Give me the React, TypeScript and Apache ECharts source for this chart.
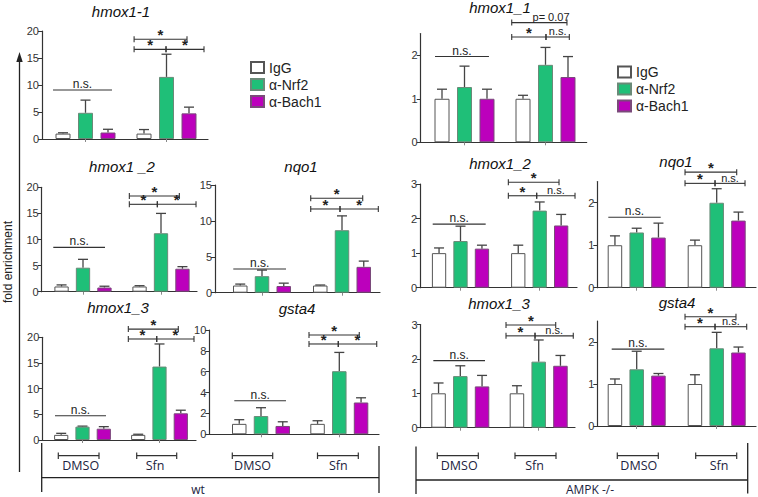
import React, { useEffect, useRef } from 'react';
import * as echarts from 'echarts';

// ---------- data ----------
const groups = ['DMSO', 'Sfn'];
const groupX = [1, 2];
const antibodies = ['IgG', 'α-Nrf2', 'α-Bach1'];

// rows: IgG, α-Nrf2, α-Bach1 ; columns: DMSO, Sfn
const wtHmox1_1 = [[1.0, 1.0], [4.85, 11.5], [1.2, 4.75]];
const wtHmox1_1Sem = [[0.15, 0.75], [2.35, 4.2], [0.6, 1.15]];
const ampkHmox1_1 = [[1.0, 1.0], [1.27, 1.78], [1.0, 1.5]];
const ampkHmox1_1Sem = [[0.22, 0.08], [0.48, 0.4], [0.22, 0.47]];
const wtHmox1_2 = [[1.0, 1.0], [4.6, 11.2], [0.8, 4.4]];
const wtHmox1_2Sem = [[0.3, 0.15], [1.6, 3.8], [0.25, 0.4]];
const wtNqo1 = [[1.0, 1.0], [2.3, 8.7], [0.93, 3.6]];
const wtNqo1Sem = [[0.2, 0.07], [0.85, 2.0], [0.4, 0.8]];
const wtHmox1_3 = [[1.0, 1.0], [2.6, 14.3], [2.2, 5.2]];
const wtHmox1_3Sem = [[0.3, 0.12], [0.1, 4.4], [0.4, 0.6]];
const wtGsta4 = [[1.0, 1.0], [1.75, 6.05], [0.8, 3.05]];
const wtGsta4Sem = [[0.4, 0.3], [0.8, 1.8], [0.4, 0.45]];
const ampkHmox1_2 = [[1.0, 1.0], [1.35, 2.23], [1.13, 1.8]];
const ampkHmox1_2Sem = [[0.15, 0.23], [0.43, 0.25], [0.1, 0.32]];
const ampkNqo1 = [[1.0, 1.0], [1.3, 2.0], [1.18, 1.58]];
const ampkNqo1Sem = [[0.22, 0.12], [0.1, 0.33], [0.34, 0.2]];
const ampkHmox1_3 = [[1.0, 1.0], [1.5, 1.92], [1.2, 1.8]];
const ampkHmox1_3Sem = [[0.3, 0.22], [0.3, 0.63], [0.32, 0.3]];
const ampkGsta4 = [[1.0, 1.0], [1.35, 1.85], [1.2, 1.75]];
const ampkGsta4Sem = [[0.12, 0.22], [0.43, 0.38], [0.05, 0.13]];

// significance annotations: [x1, x2, y, label, endTicks, labelX?]
const wtHmox1_1Sig = [[1.6, 2.253, 18.46, '*', 1], [1.6, 1.994, 16.6, '*', 1], [1.994, 2.463, 16.6, '*', 1], [0.599, 1.327, 9.07, 'n.s.', 0]];
const ampkHmox1_1Sig = [[1.583, 2.265, 2.75, 'p= 0.07', 1, 2.068], [1.583, 2.006, 2.42, '*', 1], [2.006, 2.294, 2.42, 'n.s.', 1], [0.636, 1.302, 1.97, 'n.s.', 0]];
const wtHmox1_2Sig = [[1.594, 2.235, 18.33, '*', 1], [1.594, 1.953, 16.74, '*', 1], [1.953, 2.449, 16.74, '*', 1], [0.619, 1.282, 8.5, 'n.s.', 0]];
const wtNqo1Sig = [[1.609, 2.259, 13.15, '*', 1], [1.609, 1.975, 11.66, '*', 1], [1.975, 2.454, 11.66, '*', 1], [0.641, 1.3, 3.3, 'n.s.', 0]];
const wtHmox1_3Sig = [[1.595, 2.244, 21.6, '*', 1], [1.595, 1.964, 19.67, '*', 1], [1.964, 2.448, 19.67, '*', 1], [0.643, 1.305, 4.73, 'n.s.', 0]];
const wtGsta4Sig = [[1.613, 2.255, 9.52, '*', 1], [1.613, 1.987, 8.66, '*', 1], [1.987, 2.478, 8.66, '*', 1], [0.659, 1.319, 3.22, 'n.s.', 0]];
const ampkHmox1_2Sig = [[1.604, 2.244, 3.05, '*', 1], [1.604, 1.962, 2.66, '*', 1], [1.962, 2.446, 2.66, 'n.s.', 1], [0.649, 1.318, 1.84, 'n.s.', 0]];
const ampkNqo1Sig = [[1.604, 2.25, 2.72, '*', 1], [1.604, 1.979, 2.456, '*', 1], [1.979, 2.354, 2.456, 'n.s.', 1], [0.645, 1.3, 1.66, 'n.s.', 0]];
const ampkHmox1_3Sig = [[1.583, 2.217, 2.985, '*', 1], [1.583, 1.953, 2.67, '*', 1], [1.953, 2.441, 2.67, 'n.s.', 1], [0.656, 1.315, 1.95, 'n.s.', 0]];
const ampkGsta4Sig = [[1.604, 2.241, 2.6, '*', 1], [1.604, 1.979, 2.364, '*', 1], [1.979, 2.375, 2.364, 'n.s.', 1], [0.6875, 1.345, 1.83, 'n.s.', 0]];

// tick labels
const ticks20 = [0, 5, 10, 15, 20];
const ticks15 = [0, 5, 10, 15];
const ticks10 = [0, 2, 4, 6, 8, 10];
const ticks3 = [0, 1, 2, 3];
const ticks2 = [0, 1, 2];

const titles = ['hmox1-1', 'hmox1_1', 'hmox1 _2', 'nqo1', 'hmox1_3', 'gsta4', 'hmox1_2', 'nqo1', 'hmox1_3', 'gsta4'];
const blockLabels = ['wt', 'AMPK -/-'];
const yAxisTitle = 'fold enrichment';

// ---------- layout / style ----------
const FONT = '"Liberation Sans", Arial, Helvetica, sans-serif';
const FONT2 = '"Open Sans", "Noto Sans", sans-serif';
const AX = '#333';
const colors = ['#ffffff', '#1fbf78', '#bc00bc'];
const borders = ['#555', '#6a8a78', '#7a4a7a'];

const panels = [
  { tx: 121, ty: 11, L: 42, R: 208, top: 31, y0: 139, yMax: 20, c1: 85.5, c2: 166.5, bw: 15, ticks: ticks20, mean: wtHmox1_1, sem: wtHmox1_1Sem, sig: wtHmox1_1Sig },
  { tx: 500, ty: 7.5, L: 420.7, R: 586.7, top: 33.5, y0: 142.3, yMax: 2.5, c1: 464.5, c2: 545.5, bw: 15, ticks: ticks2, mean: ampkHmox1_1, sem: ampkHmox1_1Sem, sig: ampkHmox1_1Sig },
  { tx: 122, ty: 166, L: 41.7, R: 197, top: 187.3, y0: 291.7, yMax: 20, c1: 83, c2: 161, bw: 14.3, ticks: ticks20, mean: wtHmox1_2, sem: wtHmox1_2Sem, sig: wtHmox1_2Sig },
  { tx: 301, ty: 166, L: 215, R: 380, top: 185, y0: 292.7, yMax: 15, c1: 262, c2: 342, bw: 14.5, ticks: ticks15, mean: wtNqo1, sem: wtNqo1Sem, sig: wtNqo1Sig },
  { tx: 118, ty: 307.5, L: 42.3, R: 196, top: 337.3, y0: 440, yMax: 20, c1: 82.5, c2: 159.5, bw: 14.2, ticks: ticks20, mean: wtHmox1_3, sem: wtHmox1_3Sem, sig: wtHmox1_3Sig },
  { tx: 297, ty: 308, L: 209.3, R: 379, top: 330, y0: 434.3, yMax: 10, c1: 261, c2: 339.3, bw: 14.5, ticks: ticks10, mean: wtGsta4, sem: wtGsta4Sem, sig: wtGsta4Sig },
  { tx: 500, ty: 163, L: 420, R: 577, top: 184, y0: 287.7, yMax: 3, c1: 460.5, c2: 539.7, bw: 14.3, ticks: ticks3, mean: ampkHmox1_2, sem: ampkHmox1_2Sem, sig: ampkHmox1_2Sig },
  { tx: 676, ty: 161, L: 597.3, R: 756, top: 181.5, y0: 287.7, yMax: 2.5, c1: 636.7, c2: 716.7, bw: 14.5, ticks: ticks2, mean: ampkNqo1, sem: ampkNqo1Sem, sig: ampkNqo1Sig },
  { tx: 499, ty: 303, L: 420.7, R: 575, top: 324.5, y0: 427.7, yMax: 3, c1: 460.3, c2: 538.7, bw: 14.5, ticks: ticks3, mean: ampkHmox1_3, sem: ampkHmox1_3Sem, sig: ampkHmox1_3Sig },
  { tx: 677, ty: 302.5, L: 597.3, R: 756, top: 321, y0: 426, yMax: 2.5, c1: 636.7, c2: 716.7, bw: 14.5, ticks: ticks2, mean: ampkGsta4, sem: ampkGsta4Sem, sig: ampkGsta4Sig },
];

const bottomBrackets = [
  { x1: 58.3, x2: 99, lx: 80.7 }, { x1: 136.7, x2: 176.7, lx: 155 },
  { x1: 232.3, x2: 272.7, lx: 252.5 }, { x1: 317.5, x2: 358.3, lx: 338.3 },
  { x1: 437.3, x2: 478.3, lx: 459.2 }, { x1: 515, x2: 556, lx: 534.5 },
  { x1: 617.3, x2: 658.3, lx: 638.8 }, { x1: 695.7, x2: 736.7, lx: 719 },
];

function txt(text: string, x: number, y: number, opts: any = {}) {
  return {
    type: 'text', x, y, rotation: opts.rotation || 0, silent: true,
    style: {
      text, fill: opts.color || '#111',
      fontSize: opts.size || 12, fontFamily: opts.family || FONT,
      lineHeight: opts.lineHeight || undefined,
      fontStyle: opts.italic ? 'italic' : 'normal', fontWeight: opts.bold ? 'bold' : 'normal',
      align: opts.align || 'center', verticalAlign: opts.valign || 'middle',
      textAlign: opts.align || 'center', textVerticalAlign: opts.valign || 'middle',
    },
  };
}
function ln(x1: number, y1: number, x2: number, y2: number, w = 1, color = AX) {
  return { type: 'line', silent: true, shape: { x1, y1, x2, y2 }, style: { stroke: color, lineWidth: w } };
}

function buildOption() {
  const grid: any[] = [], xAxis: any[] = [], yAxis: any[] = [], series: any[] = [], elements: any[] = [];
  panels.forEach((p, i) => {
    const d = p.c2 - p.c1;
    const spacing = p.bw * 1.5;
    grid.push({ left: p.L, top: p.top, width: p.R - p.L, height: p.y0 - p.top, containLabel: false });
    xAxis.push({
      type: 'value', gridIndex: i, min: 1 - (p.c1 - p.L) / d, max: 2 + (p.R - p.c2) / d,
      splitLine: { show: false },
      axisLine: { show: true, onZero: false, lineStyle: { color: AX, width: 1.2 } },
      axisTick: { show: true, customValues: groupX, length: 3, lineStyle: { color: '#888' } },
      axisLabel: { show: false },
    });
    yAxis.push({
      type: 'value', gridIndex: i, min: 0, max: p.yMax,
      splitLine: { show: false },
      axisLine: { show: true, onZero: false, lineStyle: { color: AX, width: 1.2 } },
      axisTick: { show: true, customValues: p.ticks, length: 4, lineStyle: { color: AX } },
      axisLabel: { show: true, customValues: p.ticks, fontSize: 11, color: '#333', margin: 3, fontFamily: FONT },
    });
    antibodies.forEach((name, s) => {
      series.push({
        type: 'bar', name, xAxisIndex: i, yAxisIndex: i, barWidth: p.bw, barGap: '50%',
        data: groupX.map((x, g) => [x, p.mean[s][g]]),
        itemStyle: { color: colors[s], borderColor: borders[s], borderWidth: 1 },
        z: 3,
      });
    });
    const errData: number[][] = [];
    antibodies.forEach((_, s) => groupX.forEach((x, g) => errData.push([x, p.mean[s][g], p.mean[s][g] + p.sem[s][g], s - 1])));
    series.push({
      type: 'custom', xAxisIndex: i, yAxisIndex: i, data: errData, z: 2, silent: true,
      encode: { x: 0, y: 2 },
      renderItem: (params: any, api: any) => {
        const x = api.value(0), v = api.value(1), t = api.value(2), s = api.value(3);
        const a = api.coord([x, v]);
        const b = api.coord([x, t]);
        const cx = a[0] + s * spacing;
        return {
          type: 'group',
          children: [
            { type: 'line', shape: { x1: cx, y1: a[1], x2: cx, y2: b[1] }, style: { stroke: '#444', lineWidth: 1.3 } },
            { type: 'line', shape: { x1: cx - 5, y1: b[1], x2: cx + 5, y2: b[1] }, style: { stroke: '#444', lineWidth: 1.3 } },
          ],
        };
      },
    });
    const sig = p.sig;
    series.push({
      type: 'custom', xAxisIndex: i, yAxisIndex: i, silent: true, z: 4,
      data: sig.map((b: any) => [b[0], b[2]]),
      encode: { x: 0, y: 1 },
      renderItem: (params: any, api: any) => {
        const b: any = sig[params.dataIndex];
        const p1 = api.coord([b[0], b[2]]);
        const p2 = api.coord([b[1], b[2]]);
        const y = p1[1];
        const children: any[] = [
          { type: 'line', shape: { x1: p1[0], y1: y, x2: p2[0], y2: y }, style: { stroke: '#333', lineWidth: 1.1 } },
        ];
        if (b[4]) {
          children.push({ type: 'line', shape: { x1: p1[0], y1: y - 3, x2: p1[0], y2: y + 3 }, style: { stroke: '#333', lineWidth: 1.1 } });
          children.push({ type: 'line', shape: { x1: p2[0], y1: y - 3, x2: p2[0], y2: y + 3 }, style: { stroke: '#333', lineWidth: 1.1 } });
        }
        const lx = b[5] !== undefined ? api.coord([b[5], b[2]])[0] : (p1[0] + p2[0]) / 2;
        const star = b[3] === '*';
        const inBracket = !!b[4];
        const fs = star ? 15 : inBracket ? 11 : 12;
        children.push({
          type: 'text', x: lx, y: star ? y + 3 : y - 0.5,
          style: {
            text: b[3], fill: '#222', fontFamily: FONT, fontSize: fs, lineHeight: star ? 15 : fs - 1,
            fontWeight: star ? 'bold' : 'normal',
            align: 'center', verticalAlign: 'bottom', textAlign: 'center', textVerticalAlign: 'bottom',
          },
        });
        return { type: 'group', children };
      },
    });
    elements.push(txt(titles[i], p.tx, p.ty, { size: 15, italic: true, color: '#111' }));
  });

  // y-axis arrow and title
  elements.push(ln(19.5, 60, 19.5, 472, 1.3, '#222'));
  elements.push({ type: 'polygon', silent: true, shape: { points: [[19.5, 52], [16.3, 62], [22.7, 62]] }, style: { fill: '#222' } });
  elements.push(txt(yAxisTitle, 8, 262, { rotation: Math.PI / 2, size: 12, color: '#222' }));

  // bottom group annotation
  bottomBrackets.forEach((b, k) => {
    elements.push(ln(b.x1, 455.7, b.x2, 455.7, 1.2, '#333'));
    elements.push(ln(b.x1, 452.5, b.x1, 459, 1.2, '#333'));
    elements.push(ln(b.x2, 452.5, b.x2, 459, 1.2, '#333'));
    elements.push(txt(groups[k % 2], b.lx, 465.5, { size: 12.5, family: FONT2, color: '#1c2340' }));
  });
  // left block frame
  elements.push(ln(41.7, 443, 41.7, 492, 1.3, '#222'));
  elements.push(ln(41.7, 477.7, 379, 477.7, 1.3, '#222'));
  elements.push(ln(379, 446, 379, 493, 1.3, '#222'));
  // right block frame
  elements.push(ln(416, 446.5, 416, 494, 1.3, '#222'));
  elements.push(ln(416, 480, 747.7, 480, 1.3, '#222'));
  elements.push(ln(747.7, 443, 747.7, 493.5, 1.3, '#222'));
  elements.push(txt(blockLabels[0], 198, 489.5, { size: 12, lineHeight: 13, family: FONT2, color: '#1c2340' }));
  elements.push(txt(blockLabels[1], 590, 489, { size: 12, lineHeight: 13, family: FONT2, color: '#1c2340' }));

  const legendBase = {
    data: antibodies, orient: 'vertical', itemWidth: 13, itemHeight: 11, itemGap: 0, padding: 0,
    selectedMode: false, icon: 'rect',
    textStyle: { fontSize: 14, lineHeight: 17, color: '#222', fontFamily: FONT },
  };

  return {
    animation: false,
    backgroundColor: '#ffffff',
    grid, xAxis, yAxis, series,
    legend: [
      { ...legendBase, left: 250, top: 59 },
      { ...legendBase, left: 617, top: 63.5 },
    ],
    graphic: { elements },
  };
}

export default function App() {
  const ref = useRef<HTMLDivElement>(null);
  useEffect(() => {
    if (!ref.current) return;
    const chart = echarts.init(ref.current, undefined, { renderer: 'svg' });
    chart.setOption(buildOption() as any);
    return () => chart.dispose();
  }, []);
  return <div ref={ref} style={{ position: 'fixed', left: 0, top: 0, width: 758, height: 497, background: '#fff' }} />;
}
